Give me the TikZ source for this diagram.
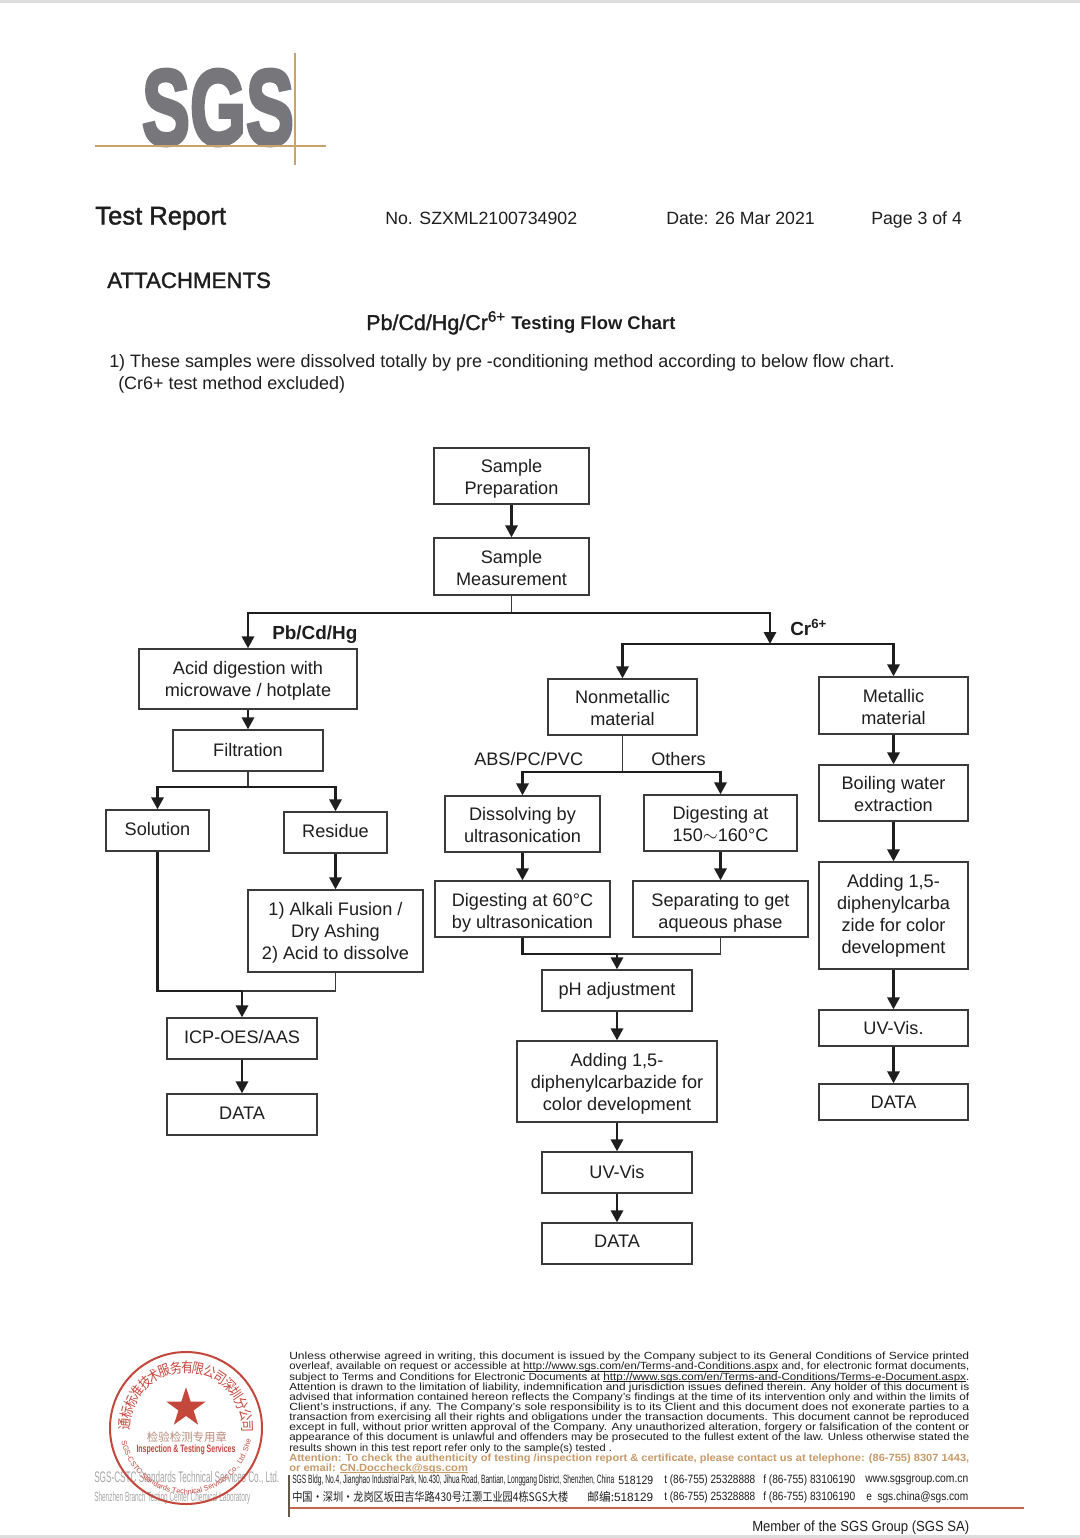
\documentclass[tikz,border=0pt]{standalone}
\usepackage{fontspec}
\setmainfont{Liberation Sans}
\newfontfamily\cjk{Noto Sans CJK SC}
\newfontfamily\heavy[FakeBold=1.5]{Liberation Sans}
\newfontfamily\logofont[BoldFeatures={FakeBold=3.5}]{Liberation Sans}
\usetikzlibrary{arrows.meta, decorations.text, shapes.geometric}
\definecolor{sgsgray}{HTML}{77767A}
\definecolor{sgstan}{HTML}{C9A36B}
\definecolor{inkdark}{HTML}{1E1E1E}
\definecolor{boxline}{HTML}{3A3A3A}
\definecolor{stampred}{HTML}{C4473C}
\definecolor{stampsoft}{HTML}{B98C7C}
\definecolor{noticeorange}{HTML}{C79A6A}
\definecolor{edgegray}{HTML}{DDDDDD}
\newlength\pxunit
\setlength\pxunit{0.75pt}
\newsavebox\urlbox
\newcommand\tightlines{\lineskiplimit=-10pt\relax}
\tikzset{
  >={Triangle[length=9pt, width=9pt]},
  flowbox/.style={draw=boxline, line width=0.9pt, inner sep=0pt, align=center, text=inkdark,
    font=\fontsize{13.6}{16.5}\selectfont},
  flow/.style={->, line width=2.2pt, inkdark},
  bus/.style={line width=2.2pt, inkdark},
  link/.style={line width=0.8pt, boxline},
  label/.style={inner sep=0pt, anchor=base west, text=inkdark, font=\fontsize{13.6}{16.5}\selectfont},
  boldlabel/.style={inner sep=0pt, anchor=base west, text=inkdark, font=\fontsize{14.2}{16.5}\selectfont\bfseries},
  heading/.style={inner sep=0pt, anchor=base west, text=inkdark},
  small/.style={inner sep=0pt, anchor=west, text=inkdark},
  tanrule/.style={sgstan, line width=0.8pt},
  stampchar/.style={inner sep=0pt, text=stampred, font=\cjk\fontsize{10.5}{11}\selectfont},
}
% one box: \flowbox{name}{left}{top}{right}{bottom}{text}, all in pixels
\newcommand\flowbox[6]{%
  \node[flowbox, minimum width={(#4-#2)*0.75pt}, minimum height={(#5-#3)*0.75pt}]
    (#1) at ({(#2+#4)/2},{(#3+#5)/2}) {#6};}
% pushes a multi-line box text down by #1 pixels
\newcommand\lift[1]{\rule{0pt}{\dimexpr 10pt+#1\dimexpr1.5pt\relax\relax}}
% pulls a one-line box text up by #1 pixels
\newcommand\sink[1]{\rule[-#1\dimexpr1.5pt\relax]{0pt}{#1\dimexpr1.5pt\relax}}
% one squeezed run of text: \squeezed{name}{left}{y}{width}{text}
\newcommand\squeezed[5]{%
  \node[small] (#1) at (#2,#3) {\resizebox{#4\pxunit}{\height}{#5}};}
\newcommand\fline[1]{\resizebox{510pt}{\height}{#1}}
\newcommand\urlline[1]{\sbox\urlbox{#1}\rlap{\rule[-0.8pt]{\wd\urlbox}{0.35pt}}\usebox\urlbox}
\begin{document}
\begin{tikzpicture}[x=0.75pt, y=-0.75pt]
  \useasboundingbox[fill=white] (0,0) rectangle (1080,1538);
  \fill[edgegray] (0,0) rectangle (1080,3);
  \fill[edgegray] (0,1535) rectangle (1080,1538);

  % logo
  \node[inner sep=0pt, text=sgsgray] (logo) at (218,107.5)
    {\resizebox{152\pxunit}{75\pxunit}{\logofont\bfseries SGS}};
  \draw[tanrule] (95,146) -- (326,146);
  \draw[tanrule] (295,53) -- (295,165);

  % header
  \node[heading, font=\heavy\fontsize{19.2}{22}\selectfont] (report) at (95,224.5) {Test Report};
  \node[heading, font=\fontsize{13.3}{16}\selectfont] (number) at (385,224) {No. SZXML2100734902};
  \node[heading, font=\fontsize{13.3}{16}\selectfont] (date) at (666,224) {Date: 26 Mar 2021};
  \node[heading, font=\fontsize{13.3}{16}\selectfont] (page) at (871,224) {Page 3 of 4};
  \node[heading, font=\heavy\fontsize{16.7}{20}\selectfont] (attach) at (107,288) {ATTACHMENTS};
  \node[heading, font=\heavy\fontsize{16.1}{20}\selectfont] (title) at (366,330) {Pb/Cd/Hg/Cr\textsuperscript{6+}};
  \node[heading, font=\fontsize{13.8}{16}\selectfont\bfseries] (titleb) at (511,329) {Testing Flow Chart};
  \node[heading, font=\fontsize{13.45}{16}\selectfont] (noteA) at (109,367)
    {1) These samples were dissolved totally by pre -conditioning method according to below flow chart.};
  \node[heading, font=\fontsize{13.45}{16}\selectfont] (noteB) at (118,389) {(Cr6+ test method excluded)};

  % boxes
  \flowbox{prep}{434}{448}{589}{504}{\lift{3}Sample\\Preparation}
  \flowbox{meas}{434}{538}{589}{595}{\lift{1}Sample\\Measurement}
  \flowbox{acid}{139}{649}{357}{709}{\lift{2}Acid digestion with\\microwave / hotplate}
  \flowbox{filt}{173}{730}{323}{771}{Filtration\sink{1}}
  \flowbox{soln}{106}{810}{209}{851}{Solution\sink{2}}
  \flowbox{resid}{284}{812}{387}{853}{Residue\sink{2}}
  \flowbox{fusion}{248}{890}{423}{972}{\lift{2}1) Alkali Fusion /\\Dry Ashing\\2) Acid to dissolve}
  \flowbox{icp}{167}{1018}{317}{1059}{ICP-OES/AAS\sink{2}}
  \flowbox{dataA}{167}{1094}{317}{1135}{DATA\sink{1}}
  \flowbox{nonmet}{548}{679}{697}{735}{\lift{1}Nonmetallic\\material}
  \flowbox{dissolve}{445}{796}{600}{852}{\lift{1}Dissolving by\\ultrasonication}
  \flowbox{digest}{644}{795}{797}{851}{\lift{1}Digesting at\\150$\sim$160°C}
  \flowbox{sixty}{435}{881}{610}{937}{\lift{4}Digesting at 60°C\\by ultrasonication}
  \flowbox{separate}{633}{881}{808}{937}{\lift{4}Separating to get\\aqueous phase}
  \flowbox{ph}{542}{970}{692}{1011}{pH adjustment}
  \flowbox{addB}{517}{1041}{717}{1122}{\lift{2}Adding 1,5-\\diphenylcarbazide for\\color development}
  \flowbox{uvB}{542}{1152}{692}{1193}{UV-Vis\sink{1}}
  \flowbox{dataB}{542}{1223}{692}{1264}{DATA\sink{2}}
  \flowbox{metal}{819}{677}{968}{734}{\lift{1}Metallic\\material}
  \flowbox{boil}{819}{765}{968}{821}{\lift{1}Boiling water\\extraction}
  \flowbox{addC}{819}{862}{968}{969}{Adding 1,5-\\diphenylcarba\\zide for color\\development}
  \flowbox{uvC}{819}{1010}{968}{1046}{UV-Vis.}
  \flowbox{dataC}{819}{1084}{968}{1120}{DATA}

  % branch points
  \coordinate (topmid) at (511.5,613);
  \coordinate (topL) at (248,613);
  \coordinate (topR) at (770,613);
  \coordinate (crmid) at (770,644);
  \coordinate (crL) at (622.5,644);
  \coordinate (crR) at (893.5,644);
  \coordinate (filtmid) at (248,787);
  \coordinate (filtL) at (157.5,787);
  \coordinate (filtR) at (335.5,787);
  \coordinate (nonmid) at (622.5,772);
  \coordinate (nonL) at (522.5,772);
  \coordinate (nonR) at (720.5,772);
  \coordinate (solcorner) at (157.5,991);
  \coordinate (icpjoin) at (242,991);
  \coordinate (fuscorner) at (335.5,991);
  \coordinate (sixcorner) at (522.5,954);
  \coordinate (phjoin) at (617,954);
  \coordinate (sepcorner) at (720.5,954);

  % connectors
  \draw[flow] (prep) -- (meas);
  \draw[link] (meas) -- (topmid);
  \draw[flow] (topR) -- (topL) -- (acid);
  \draw[flow] (topL) -- (topR) -- (crmid);
  \draw[flow] (crR) -- (crL) -- (nonmet);
  \draw[flow] (crL) -- (crR) -- (metal);
  \draw[flow] (acid) -- (filt);
  \draw[link] (filt) -- (filtmid);
  \draw[flow] (filtR) -- (filtL) -- (soln);
  \draw[flow] (filtL) -- (filtR) -- (resid);
  \draw[flow] (resid) -- (fusion);
  \draw[bus] (soln) -- (solcorner) -- (icpjoin);
  \draw[link] (fusion) -- (fuscorner) -- (icpjoin);
  \draw[flow] (icpjoin) -- (icp);
  \draw[flow] (icp) -- (dataA);
  \draw[link] (nonmet) -- (nonmid);
  \draw[flow] (nonR) -- (nonL) -- (dissolve);
  \draw[flow] (nonL) -- (nonR) -- (digest);
  \draw[flow] (dissolve) -- (sixty);
  \draw[flow] (digest) -- (separate);
  \draw[bus] (sixty) -- (sixcorner) -- (phjoin);
  \draw[link] (separate) -- (sepcorner) -- (phjoin);
  \draw[flow] (phjoin) -- (ph);
  \draw[flow] (ph) -- (addB);
  \draw[flow] (addB) -- (uvB);
  \draw[flow] (uvB) -- (dataB);
  \draw[flow] (metal) -- (boil);
  \draw[flow] (boil) -- (addC);
  \draw[flow] (addC) -- (uvC);
  \draw[flow] (uvC) -- (dataC);

  % branch labels
  \node[boldlabel] (pblabel) at (272,639) {Pb/Cd/Hg};
  \node[boldlabel] (crlabel) at (790,635) {Cr\textsuperscript{6+}};
  \node[label] (abslabel) at (474,765) {ABS/PC/PVC};
  \node[label] (otherlabel) at (651,765) {Others};

  % stamp
  \node[small, text=black!35, font=\fontsize{11.5}{13}\selectfont] (stampA) at (94,1478) {\resizebox{185\pxunit}{\height}{SGS-CSTC Standards Technical Services Co., Ltd.}};
  \node[small, text=black!35, font=\fontsize{10}{12}\selectfont] (stampB) at (94,1498) {\resizebox{156\pxunit}{\height}{Shenzhen Branch Testing Center Chemical Laboratory}};
  \begin{scope}[shift={(186,1428)}, y=0.75pt]
    \draw[stampred, line width=1.5pt] (0,0) circle (76);
    \foreach \ch [count=\i] in {通,标,标,准,技,术,服,务,有,限,公,司,深,圳,分,公,司} {
      \pgfmathsetmacro\ang{176-(\i-1)*10.9}
      \node[stampchar, rotate=\ang-90] (stampch\i) at (\ang:61) {\scalebox{0.85}[1]{\ch}};
    }
    \path[decorate, decoration={text along path, text align=fit to path,
        text={|\fontsize{5.5}{6}\selectfont\color{stampred}|SGS-CSTC Standards Technical Services Co., Ltd. Shenzhen Branch}}]
      (192:66) arc[start angle=192, end angle=350, radius=66];
  \end{scope}
  \node[star, star points=5, star point ratio=2.6, minimum size=31pt, inner sep=0pt, fill=stampred] (stampstar) at (186,1408) {};
  \node[inner sep=0pt, text=stampsoft, font=\cjk\fontsize{8.6}{10}\selectfont] (stampC) at (187,1437) {检验检测专用章};
  \node[inner sep=0pt, text=stampred, font=\bfseries\fontsize{8}{10}\selectfont] (stampD) at (186,1450) {\resizebox{99\pxunit}{\height}{Inspection \& Testing Services}};

  % small print
  \node[inner sep=0pt, anchor=north west, align=left, text=inkdark,
    font=\fontsize{7.8}{7.6}\selectfont\tightlines] (notice) at (289,1352) {%
    \fline{Unless otherwise agreed in writing, this document is issued by the Company subject to its General Conditions of Service printed}\\
    \fline{overleaf, available on request or accessible at \urlline{http://www.sgs.com/en/Terms-and-Conditions.aspx} and, for electronic format documents,}\\
    \fline{subject to Terms and Conditions for Electronic Documents at \urlline{http://www.sgs.com/en/Terms-and-Conditions/Terms-e-Document.aspx}.}\\
    \fline{Attention is drawn to the limitation of liability, indemnification and jurisdiction issues defined therein. Any holder of this document is}\\
    \fline{advised that information contained hereon reflects the Company's findings at the time of its intervention only and within the limits of}\\
    \fline{Client's instructions, if any. The Company's sole responsibility is to its Client and this document does not exonerate parties to a}\\
    \fline{transaction from exercising all their rights and obligations under the transaction documents. This document cannot be reproduced}\\
    \fline{except in full, without prior written approval of the Company. Any unauthorized alteration, forgery or falsification of the content or}\\
    \fline{appearance of this document is unlawful and offenders may be prosecuted to the fullest extent of the law. Unless otherwise stated the}\\
    \resizebox{242pt}{\height}{results shown in this test report refer only to the sample(s) tested .}\\
    \textcolor{noticeorange}{\bfseries\fline{Attention: To check the authenticity of testing /inspection report \& certificate, please contact us at telephone: (86-755) 8307 1443,}}\\
    \textcolor{noticeorange}{\bfseries\resizebox{134pt}{\height}{or email: \urlline{CN.Doccheck@sgs.com}}}};

  % address lines
  \begin{scope}[font=\fontsize{9}{10}\selectfont]
    \squeezed{addrA}{292}{1480}{322}{SGS Bldg, No.4, Jianghao Industrial Park, No.430, Jihua Road, Bantian, Longgang District, Shenzhen, China}
    \squeezed{zipA}{618}{1480}{35}{518129}
    \squeezed{telA}{664}{1480}{91}{t (86-755) 25328888}
    \squeezed{faxA}{763}{1480}{92}{f (86-755) 83106190}
    \squeezed{webA}{865}{1480}{103}{www.sgsgroup.com.cn}
    \squeezed{addrB}{292}{1497}{276}{{\cjk 中国・深圳・龙岗区坂田吉华路430号江灏工业园4栋SGS大楼}}
    \squeezed{zipB}{587}{1497}{66}{{\cjk 邮编:}518129}
    \squeezed{telB}{664}{1497}{91}{t (86-755) 25328888}
    \squeezed{faxB}{763}{1497}{92}{f (86-755) 83106190}
    \squeezed{webB}{866}{1497}{102}{e\ \ sgs.china@sgs.com}
  \end{scope}
  \draw[tanrule, stampred!70!sgstan] (289,1508) -- (1024,1508);
  \draw[tanrule, boxline!70!sgstan] (289,1475) -- (289,1517);
  \squeezed{member}{752}{1528}{217}{\fontsize{11}{13}\selectfont Member of the SGS Group (SGS SA)}
\end{tikzpicture}
\end{document}
